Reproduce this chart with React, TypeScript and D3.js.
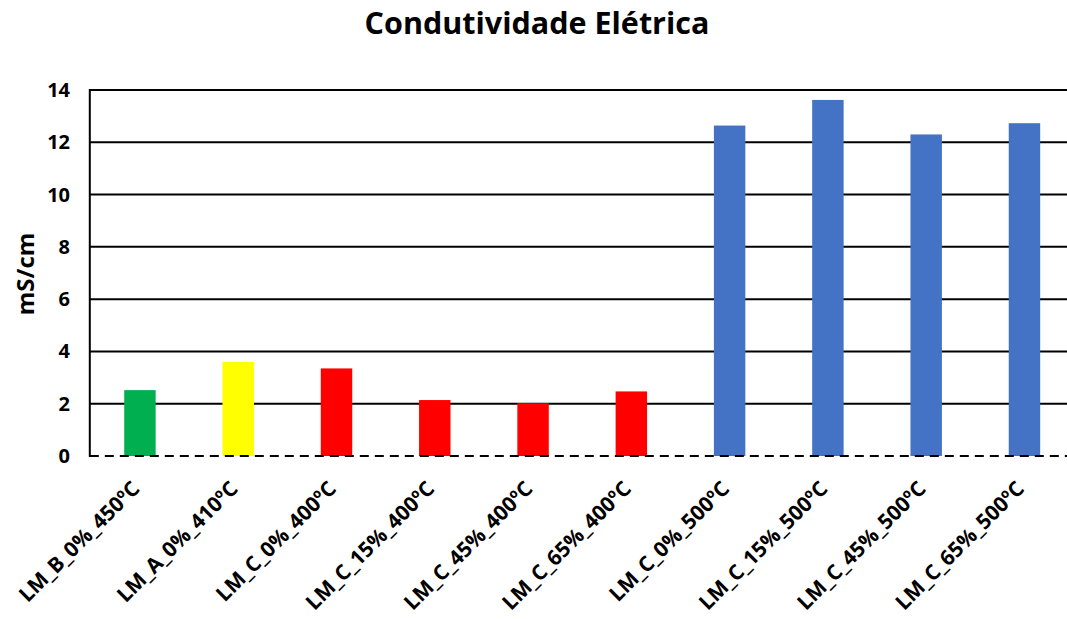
import React from "react";
import * as d3 from "d3";

const categories = [
  "LM_B_0%_450ºC",
  "LM_A_0%_410ºC",
  "LM_C_0%_400ºC",
  "LM_C_15%_400ºC",
  "LM_C_45%_400ºC",
  "LM_C_65%_400ºC",
  "LM_C_0%_500ºC",
  "LM_C_15%_500ºC",
  "LM_C_45%_500ºC",
  "LM_C_65%_500ºC",
];
const values = [2.52, 3.6, 3.35, 2.14, 2.02, 2.47, 12.64, 13.62, 12.3, 12.73];
const colors = [
  "#00B050",
  "#FFFF00",
  "#FF0000",
  "#FF0000",
  "#FF0000",
  "#FF0000",
  "#4472C4",
  "#4472C4",
  "#4472C4",
  "#4472C4",
];
const yTicks = [0, 2, 4, 6, 8, 10, 12, 14];
const title = "Condutividade Elétrica";
const yLabel = "mS/cm";

export default function App() {
  const W = 1067;
  const H = 619;
  const left = 90.8;
  const right = 1073.6;
  const top = 90;
  const bottom = 456;
  const font = "'Open Sans', Lato, sans-serif";

  const x = d3.scaleBand<string>().domain(categories).range([left, right]).paddingInner(0.68).paddingOuter(0.34);
  const y = d3.scaleLinear().domain([0, 14]).range([bottom, top]);

  return (
    <svg
      width={W}
      height={H}
      style={{ position: "absolute", left: 0, top: 0, background: "#fff" }}
    >
      <text x={537} y={34} textAnchor="middle" fontFamily={font} fontWeight="bold" fontSize={30.5} fill="#000">
        {title}
      </text>
      {/* gridlines */}
      {yTicks.filter((t) => t > 0).map((t) => (
        <line key={t} x1={left - 1} x2={W} y1={y(t)} y2={y(t)} stroke="#000" strokeWidth={2} />
      ))}
      {/* bars */}
      {categories.map((c, i) => (
        <rect
          key={c}
          x={x(c)}
          y={y(values[i])}
          width={x.bandwidth()}
          height={y(0) - y(values[i])}
          fill={colors[i]}
        />
      ))}
      {/* y axis */}
      <line x1={left - 1} x2={left - 1} y1={top - 1} y2={bottom + 1} stroke="#000" strokeWidth={2} />
      {/* zero dashed line */}
      <line x1={left - 1} x2={W} y1={y(0)} y2={y(0)} stroke="#000" strokeWidth={2} strokeDasharray="9,6" />
      {/* y tick labels */}
      {yTicks.map((t) => (
        <text key={t} x={70} y={y(t) + 7} textAnchor="end" fontFamily={font} fontWeight="bold" fontSize={20} fill="#000">
          {t}
        </text>
      ))}
      <text
        transform={`translate(34, 274) rotate(-90)`}
        textAnchor="middle"
        fontFamily={font}
        fontWeight="bold"
        fontSize={24}
        fill="#000"
      >
        {yLabel}
      </text>
      {/* x labels */}
      {categories.map((c) => {
        const cx = (x(c) as number) + x.bandwidth() / 2;
        return (
          <text
            key={c}
            transform={`translate(${cx + 1}, ${490}) rotate(-45)`}
            textAnchor="end"
            fontFamily={font}
            fontWeight="bold"
            fontSize={21}
            fill="#000"
          >
            {c}
          </text>
        );
      })}
    </svg>
  );
}
